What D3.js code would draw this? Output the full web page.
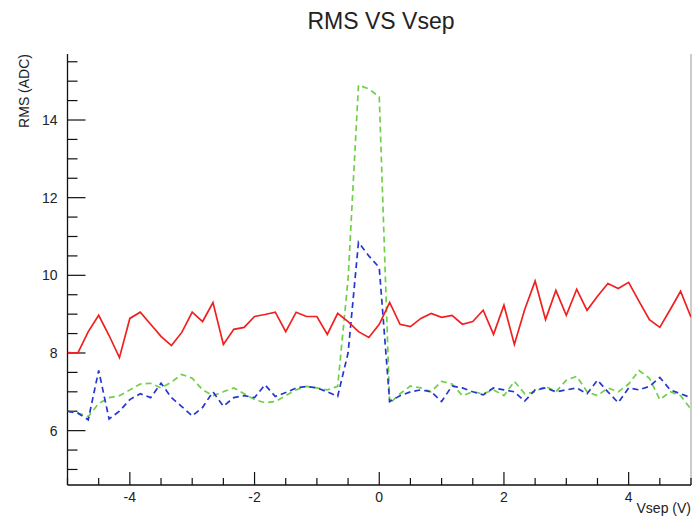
<!DOCTYPE html>
<html>
<head>
<meta charset="utf-8">
<script src="https://cdn.jsdelivr.net/npm/d3@7"></script>
<style>
  html, body { margin: 0; padding: 0; background: #fff; }
  svg { display: block; }
  text { font-family: "Liberation Sans", Arial, sans-serif; fill: #222; }
</style>
</head>
<body>
<svg id="chart" width="694" height="519"></svg>
<script>
// ---- data ----
const vsep = [
  -5.000, -4.833, -4.667, -4.500, -4.333, -4.167, -4.000, -3.833, -3.667, -3.500,
  -3.333, -3.167, -3.000, -2.833, -2.667, -2.500, -2.333, -2.167, -2.000, -1.833,
  -1.667, -1.500, -1.333, -1.167, -1.000, -0.833, -0.667, -0.500, -0.333, -0.167,
   0.000,  0.167,  0.333,  0.500,  0.667,  0.833,  1.000,  1.167,  1.333,  1.500,
   1.667,  1.833,  2.000,  2.167,  2.333,  2.500,  2.667,  2.833,  3.000,  3.167,
   3.333,  3.500,  3.667,  3.833,  4.000,  4.167,  4.333,  4.500,  4.667,  4.833,
   5.000
];
const rmsRed = [
  8.01, 8.00, 8.55, 8.97, 8.45, 7.88, 8.89, 9.05, 8.74, 8.43,
  8.19, 8.53, 9.05, 8.81, 9.30, 8.22, 8.61, 8.66, 8.94, 8.99,
  9.05, 8.55, 9.05, 8.94, 8.94, 8.48, 9.02, 8.81, 8.55, 8.40,
  8.74, 9.30, 8.74, 8.68, 8.89, 9.02, 8.92, 8.97, 8.74, 8.81,
  9.10, 8.48, 9.23, 8.22, 9.12, 9.85, 8.86, 9.61, 8.97, 9.64,
  9.10, 9.46, 9.79, 9.66, 9.82, 9.33, 8.86, 8.66, 9.12, 9.59,
  8.92
];
const rmsGreen = [
  6.50, 6.45, 6.36, 6.70, 6.85, 6.90, 7.05, 7.20, 7.22, 7.10,
  7.25, 7.45, 7.35, 7.05, 6.90, 7.00, 7.10, 6.95, 6.80, 6.72,
  6.75, 6.90, 7.05, 7.14, 7.10, 7.05, 7.14, 9.90, 14.90, 14.80,
  14.60, 6.70, 6.95, 7.15, 7.10, 7.00, 7.27, 7.20, 6.90, 7.00,
  6.95, 7.05, 6.90, 7.27, 6.95, 7.00, 7.14, 7.00, 7.30, 7.40,
  7.00, 6.90, 7.10, 7.00, 7.20, 7.55, 7.35, 6.80, 7.00, 6.90,
  6.55
];
const rmsBlue = [
  6.50, 6.45, 6.28, 7.55, 6.30, 6.50, 6.80, 6.95, 6.85, 7.22,
  6.85, 6.62, 6.38, 6.60, 7.00, 6.63, 6.85, 6.90, 6.85, 7.18,
  6.88, 6.98, 7.10, 7.14, 7.10, 7.00, 6.88, 8.00, 10.85, 10.50,
  10.20, 6.75, 6.90, 7.00, 7.05, 7.00, 6.75, 7.15, 7.10, 7.00,
  6.92, 7.10, 7.05, 7.00, 6.76, 7.05, 7.10, 7.00, 7.05, 7.10,
  6.95, 7.30, 7.00, 6.72, 7.10, 7.05, 7.14, 7.37, 7.05, 6.95,
  6.85
];
const xTickLabels = [-4, -2, 0, 2, 4];
const yTickLabels = [6, 8, 10, 12, 14];
const titleText = "RMS VS Vsep";
const xTitle = "Vsep (V)";
const yTitle = "RMS (ADC)";

// ---- layout ----
const W = 694, H = 519;
const L = 67.5, R = 691, T = 54, B = 485;

const svg = d3.select("#chart");
const x = d3.scaleLinear().domain([-5, 5]).range([L, R]);
const y = d3.scaleLinear().domain([4.6, 15.7]).range([B, T]);

// clip
svg.append("defs").append("clipPath").attr("id", "clip")
  .append("rect").attr("x", L).attr("y", T).attr("width", R - L).attr("height", B - T);

// frame right side (light)
svg.append("line").attr("x1", R).attr("x2", R).attr("y1", T).attr("y2", B)
  .attr("stroke", "#999").attr("stroke-width", 1);

// y axis
const yMinor = d3.range(5, 15.75, 0.5).filter(v => !yTickLabels.includes(v));
const gy = svg.append("g");
gy.append("line").attr("x1", L).attr("x2", L).attr("y1", T).attr("y2", B)
  .attr("stroke", "#111").attr("stroke-width", 1.3);
gy.selectAll(".ymaj").data(yTickLabels).join("line")
  .attr("x1", L).attr("x2", L + 18).attr("y1", d => y(d)).attr("y2", d => y(d))
  .attr("stroke", "#111").attr("stroke-width", 1.2);
gy.selectAll(".ymin").data(yMinor).join("line")
  .attr("x1", L).attr("x2", L + 10).attr("y1", d => y(d)).attr("y2", d => y(d))
  .attr("stroke", "#111").attr("stroke-width", 1.2);
gy.selectAll(".ylab").data(yTickLabels).join("text")
  .attr("x", L - 10).attr("y", d => y(d)).attr("dy", "0.35em")
  .attr("text-anchor", "end").attr("font-size", 14).text(d => d);

// x axis
const xMinor = d3.range(-5, 5.01, 0.5).filter(v => !xTickLabels.includes(v));
const gx = svg.append("g");
gx.append("line").attr("x1", L).attr("x2", R).attr("y1", B).attr("y2", B)
  .attr("stroke", "#111").attr("stroke-width", 1.3);
gx.selectAll(".xmaj").data(xTickLabels).join("line")
  .attr("x1", d => x(d)).attr("x2", d => x(d)).attr("y1", B).attr("y2", B - 13)
  .attr("stroke", "#111").attr("stroke-width", 1.2);
gx.selectAll(".xmin").data(xMinor).join("line")
  .attr("x1", d => x(d)).attr("x2", d => x(d)).attr("y1", B).attr("y2", B - 7)
  .attr("stroke", "#111").attr("stroke-width", 1.2);
gx.selectAll(".xlab").data(xTickLabels).join("text")
  .attr("x", d => x(d)).attr("y", B + 17)
  .attr("text-anchor", "middle").attr("font-size", 14).text(d => d);

// titles
svg.append("text").attr("x", 381).attr("y", 29).attr("text-anchor", "middle")
  .attr("font-size", 23).text(titleText);
svg.append("text").attr("x", R).attr("y", 513).attr("text-anchor", "end")
  .attr("font-size", 14).text(xTitle);
svg.append("text").attr("transform", `translate(29,${T}) rotate(-90)`)
  .attr("text-anchor", "end").attr("font-size", 14).text(yTitle);

// lines
const line = vals => d3.line().x((d, i) => x(vsep[i])).y(d => y(d))(vals);
const plot = svg.append("g").attr("clip-path", "url(#clip)");
plot.append("path").attr("d", line(rmsGreen)).attr("fill", "none")
  .attr("stroke", "#6fd048").attr("stroke-width", 1.7).attr("stroke-dasharray", "6,4");
plot.append("path").attr("d", line(rmsBlue)).attr("fill", "none")
  .attr("stroke", "#2438d0").attr("stroke-width", 1.7).attr("stroke-dasharray", "6,4");
plot.append("path").attr("d", line(rmsRed)).attr("fill", "none")
  .attr("stroke", "#f02020").attr("stroke-width", 1.7);
</script>
</body>
</html>
